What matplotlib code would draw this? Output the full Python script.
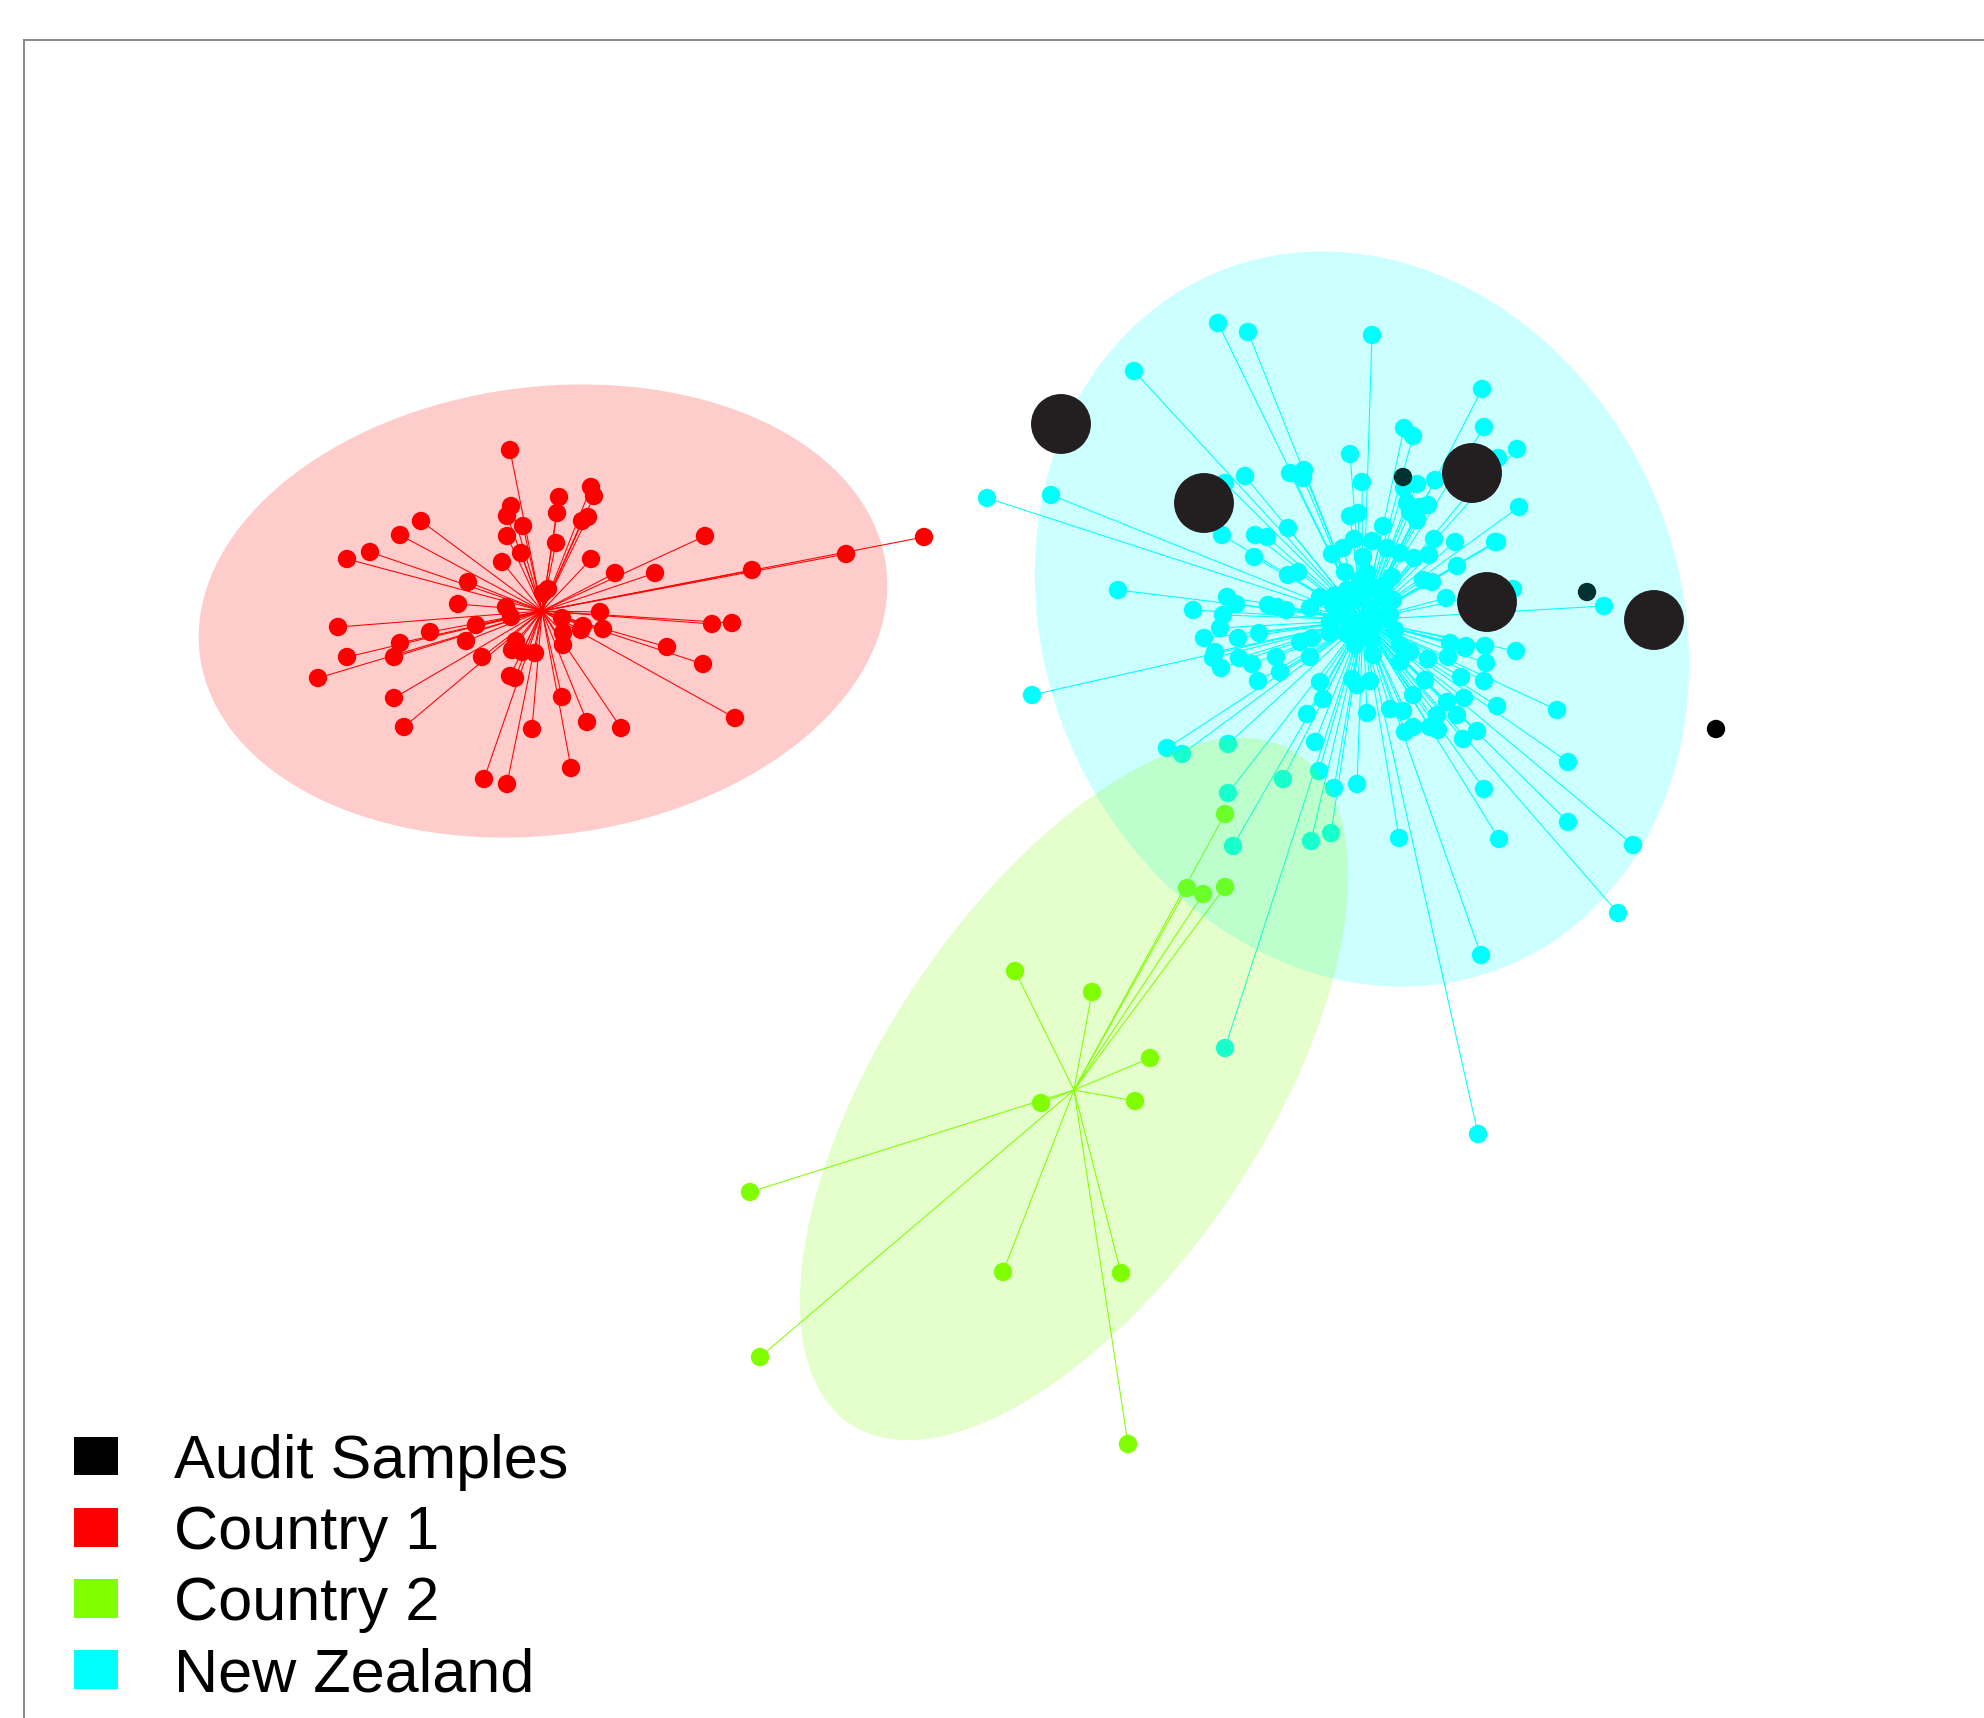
#!/usr/bin/env python3
"""Ordination spider plot: audit samples against three origin groups."""

import matplotlib
matplotlib.use("Agg")
import matplotlib.pyplot as plt
from matplotlib.patches import Ellipse, Patch

W, H = 1984, 1718

# group centroids (hub of each spider)
hub_c1 = (542, 611)
hub_c2 = (1074, 1090)
hub_nz = (1363, 620)

# Country 1 sample scores
c1_x = [510, 591, 594, 559, 511, 507, 523, 557, 588, 582, 421, 400, 370, 347,
        507, 556, 521, 502, 591, 615, 655, 705, 752, 846, 924, 468, 458, 548,
        543, 506, 511, 338, 430, 476, 466, 400, 394, 347, 318, 482, 516, 512,
        522, 535, 562, 563, 583, 600, 603, 581, 563, 712, 732, 667, 703, 510,
        515, 394, 562, 404, 532, 587, 621, 735, 571, 484, 507]
c1_y = [450, 487, 496, 497, 506, 516, 526, 513, 517, 521, 521, 535, 552, 559,
        536, 543, 553, 562, 559, 573, 573, 536, 570, 554, 537, 582, 604, 589,
        593, 607, 617, 627, 632, 625, 641, 643, 657, 657, 678, 657, 641, 650,
        652, 653, 618, 633, 626, 612, 629, 630, 645, 624, 623, 647, 664, 676,
        678, 698, 697, 727, 729, 722, 728, 718, 768, 779, 784]

# Country 2 sample scores
c2_x = [1015, 1092, 1150, 1041, 1135, 750, 760, 1003, 1121, 1128, 1225, 1187,
        1203, 1225]
c2_y = [971, 992, 1058, 1103, 1101, 1192, 1357, 1272, 1273, 1444, 814, 888,
        894, 887]

# New Zealand sample scores
nz_x = [1218, 1248, 1372, 1134, 1482, 1484, 1404, 1413, 1350, 1245, 1290, 1304,
        1303, 1362, 1417, 1435, 1404, 1051, 1225, 1407, 1420, 1428, 1410, 1417,
        1350, 1358, 1383, 1288, 1222, 1255, 1267, 1254, 1354, 1372, 1387, 1400,
        1434, 1455, 1495, 1332, 1343, 1363, 1414, 1429, 1457, 1288, 1298, 1367,
        1392, 1423, 1432, 1118, 1227, 1236, 1268, 1277, 1286, 1310, 1320, 1347,
        1363, 1383, 1393, 1446, 1193, 1223, 1333, 1347,
        1517, 1498, 1519, 1497, 1513, 1604, 987,
        1220, 1204, 1238, 1259, 1215, 1213, 1221, 1239, 1252, 1258, 1276, 1280,
        1300, 1312, 1310, 1330, 1347, 1373, 1373, 1400, 1410, 1400, 1428, 1450,
        1448, 1465, 1485, 1486, 1484, 1461, 1464, 1447, 1457, 1437, 1438, 1430,
        1413, 1425, 1390, 1403, 1413, 1405, 1463, 1477, 1497, 1367, 1352, 1357,
        1370, 1320, 1323, 1307, 1315, 1319, 1334, 1357, 1399, 1484, 1499, 1032,
        1167, 1182, 1228, 1228, 1283, 1233, 1311, 1331,
        1516, 1557, 1568, 1568, 1633, 1618, 1481, 1478, 1466, 1225,
        1340, 1355, 1370, 1380, 1350, 1365, 1390, 1335, 1375, 1360, 1345, 1385,
        1330, 1395, 1372, 1355]
nz_y = [323, 332, 335, 371, 389, 427, 428, 436, 454, 476, 473, 470,
        478, 482, 484, 480, 488, 495, 483, 503, 507, 505, 512, 520,
        516, 513, 526, 528, 535, 535, 537, 557, 539, 541, 548, 553,
        539, 542, 542, 554, 548, 557, 558, 555, 566, 575, 572, 573,
        577, 580, 582, 590, 597, 604, 605, 607, 610, 608, 597, 590,
        593, 598, 600, 598, 610, 615, 605, 602,
        449, 458, 507, 542, 589, 606, 498,
        628, 638, 638, 633, 652, 658, 668, 658, 664, 681, 657, 672,
        642, 638, 657, 633, 634, 655, 623, 645, 652, 662, 659, 643,
        657, 648, 646, 663, 681, 677, 698, 702, 715, 715, 730, 727,
        695, 680, 709, 711, 727, 732, 739, 731, 706, 713, 679, 685,
        681, 682, 699, 714, 742, 771, 788, 784, 838, 789, 839, 695,
        748, 754, 744, 793, 779, 846, 841, 833,
        651, 710, 762, 822, 845, 913, 955, 1134, 646, 1048,
        615, 600, 610, 620, 625, 632, 615, 595, 588, 580, 572, 585,
        622, 630, 640, 645]

# audit samples: small plotted points and the large highlighted ones
audit_x = [1403, 1587, 1716]
audit_y = [477, 592, 729]
audit_big_x = [1061, 1204, 1472, 1487, 1654]
audit_big_y = [424, 503, 473, 602, 620]

# dispersion ellipses: centre, width, height, angle
ell_c1 = ((543, 611), 692, 448, -7.4)
ell_nz = ((1362, 619), 752, 635, 66.9)
ell_c2 = ((1074, 1089), 806, 380, -56.2)

labels = ["Audit Samples", "Country 1", "Country 2", "New Zealand"]
RED = "#ff0000"
GREEN = "#7fff00"
CYAN = "#00ffff"
BLACK = "#000000"


def spider(ax, hub, xs, ys, color):
    for x, y in zip(xs, ys):
        ax.plot([hub[0], x], [hub[1], y], color=color, linewidth=0.75, zorder=1)
    ax.scatter(xs, ys, s=175, color=color, edgecolors="none", zorder=2)


def main():
    fig = plt.figure(figsize=(W / 100, H / 100), dpi=100)
    ax = fig.add_axes([24 / W, 0, 1 - 24 / W, 1 - 40 / H])
    ax.set_xlim(24, W)
    ax.set_ylim(H, 40)
    ax.set_xticks([])
    ax.set_yticks([])
    for side in ("right", "bottom"):
        ax.spines[side].set_visible(False)
    for side in ("left", "top"):
        ax.spines[side].set_color("#808080")
        ax.spines[side].set_linewidth(1.3)

    spider(ax, hub_c1, c1_x, c1_y, RED)
    spider(ax, hub_c2, c2_x, c2_y, GREEN)
    spider(ax, hub_nz, nz_x, nz_y, CYAN)
    ax.scatter(audit_x, audit_y, s=175, color=BLACK, edgecolors="none", zorder=2)

    # translucent ellipses go over the points, as in the original
    for (centre, w, h, ang), col in ((ell_c1, RED), (ell_nz, CYAN), (ell_c2, GREEN)):
        ax.add_patch(Ellipse(centre, w, h, angle=ang, facecolor=col,
                             edgecolor="none", alpha=0.2, zorder=3))

    ax.scatter(audit_big_x, audit_big_y, s=1860, color="#231f20",
               edgecolors="none", zorder=4)

    handles = [Patch(facecolor=c, edgecolor="none", label=l)
               for c, l in zip([BLACK, RED, GREEN, CYAN], labels)]
    ax.legend(handles=handles, loc="lower left", bbox_to_anchor=(74, 1704),
              bbox_transform=ax.transData, frameon=False, borderpad=0,
              borderaxespad=0, handlelength=0.72, handleheight=0.59,
              handletextpad=0.92, labelspacing=0.23,
              prop={"family": "Liberation Sans", "size": 44})

    fig.savefig("out.png", dpi=100)


if __name__ == "__main__":
    main()
